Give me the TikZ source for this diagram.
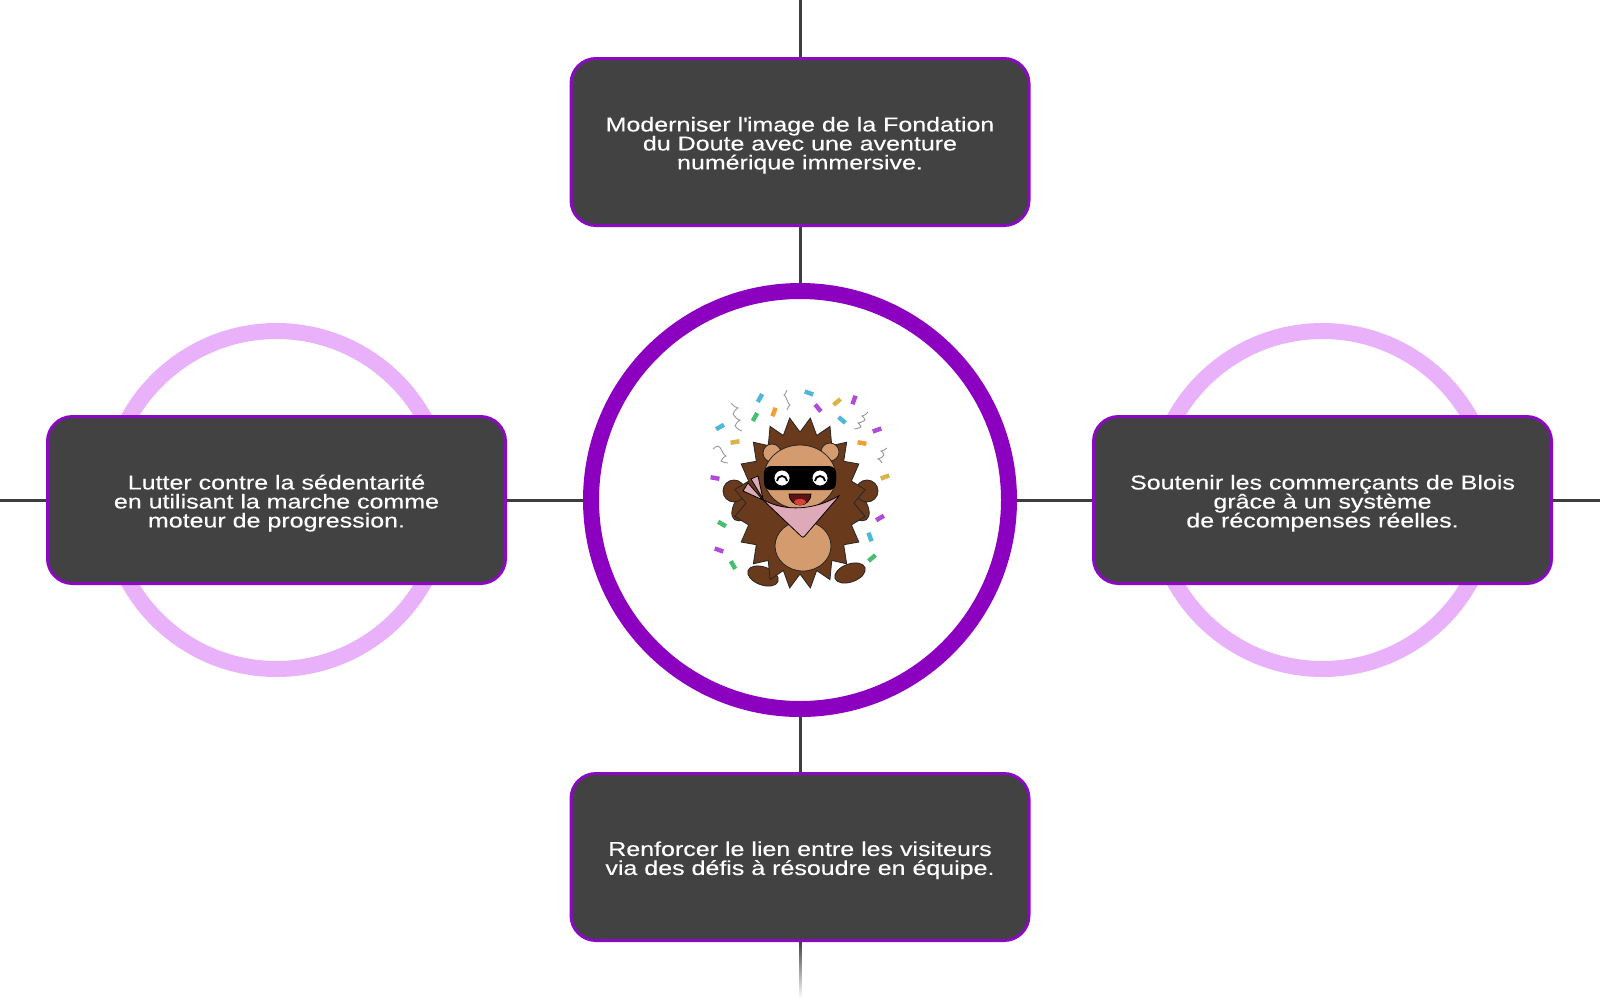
\documentclass[tikz,border=0pt]{standalone}
\usepackage{fontspec}
\setmainfont{Liberation Sans}[FakeStretch=1.25, FakeBold=0.3]
\usepackage{tikz}
\usetikzlibrary{positioning, fadings}
\definecolor{boxgray}{HTML}{424242}
\definecolor{linegray}{HTML}{3E3E3E}
\definecolor{goalpurple}{HTML}{8A0AC2}
\definecolor{hubpurple}{HTML}{8C00C0}
\definecolor{halopink}{HTML}{E9B1FA}
\definecolor{furbrown}{HTML}{6A3A1C}
\definecolor{skintan}{HTML}{D49B6E}
\definecolor{scarfpink}{HTML}{DEA9B9}
\definecolor{mouthred}{HTML}{5E1410}
\definecolor{tonguered}{HTML}{D8403A}
\definecolor{confcyan}{HTML}{4FB8D8}
\definecolor{confpurple}{HTML}{B04AD8}
\definecolor{confgold}{HTML}{D8B446}
\definecolor{conforange}{HTML}{F0A030}
\definecolor{confgreen}{HTML}{44C070}
\tikzstyle{goal} = [draw=goalpurple, line width=3pt, fill=boxgray, rounded corners=25pt,
  minimum width=458pt, minimum height=167pt, text=white, align=center,
  font={\fontsize{20}{19}\selectfont}]
\tikzstyle{hub} = [circle, draw=hubpurple, line width=16pt, fill=white, minimum size=418pt, inner sep=0pt]
\tikzstyle{halo} = [circle, draw=halopink, line width=16pt, minimum size=338pt, inner sep=0pt]
\tikzstyle{link} = [draw=linegray, line width=3pt]
\tikzstyle{fur} = [fill=furbrown, draw=black!85, line width=0.8pt]
\tikzstyle{skin} = [fill=skintan, draw=black!85, line width=0.8pt]
\tikzstyle{streamer} = [draw=gray!80, line width=0.9pt]

\begin{document}
\begin{tikzpicture}[x=1pt, y=-1pt]
  \useasboundingbox (0,0) rectangle (1600,999);
  \node[halo] (lefthalo) at (276.5,500) {};
  \node[halo] (righthalo) at (1322.5,500) {};
  \node[goal] (top) at (800,142) {\mbox{}\\[2pt]Moderniser l\textquotesingle image de la Fondation\\du Doute avec une aventure\\num\'erique immersive.};
  \node[goal] (bottom) at (800,857) {\mbox{}\\[2pt]Renforcer le lien entre les visiteurs\\via des d\'efis \`a r\'esoudre en \'equipe.};
  \node[goal] (left) at (276.5,500) {\mbox{}\\[2pt]Lutter contre la s\'edentarit\'e\\en utilisant la marche comme\\moteur de progression.};
  \node[goal] (right) at (1322.5,500) {\mbox{}\\[2pt]Soutenir les commer\c{c}ants de Blois\\gr\^ace \`a un syst\`eme\\de r\'ecompenses r\'eelles.};
  \node[hub] (hub) at (800,500) {};
  \coordinate (n) at (800,0);
  \coordinate (s) at (800,997);
  \coordinate (w) at (0,500);
  \coordinate (e) at (1600,500);
  \draw[link] (n) -- (top);
  \draw[link] (top) -- (hub);
  \draw[link] (hub) -- (bottom);
  \draw[link, path fading=south] (bottom) -- (s);
  \draw[link] (w) -- (left);
  \draw[link] (left) -- (hub);
  \draw[link] (hub) -- (right);
  \draw[link] (right) -- (e);
  % hedgehog
  \foreach \x/\y/\r/\c in {760/398/60/confcyan, 809/393/-20/confcyan, 837/402/40/confgold,
      854/400/70/confpurple, 818/408/-50/confpurple, 774/412/70/conforange, 755/417/60/confgreen,
      842/420/-40/confcyan, 720/427/30/confcyan, 735/442/10/confgold, 862/443/-10/conforange,
      877/430/20/confpurple, 885/477/20/confgold, 715/478/-10/confpurple, 880/518/30/confpurple,
      722/524/-30/confgreen, 870/537/-70/confcyan, 719/550/-20/confpurple, 872/558/40/confgreen,
      733/565/-60/confgreen}
    \fill[\c, shift={(\x,\y)}, rotate=\r] (-4.5,-2.2) rectangle (4.5,2.2);
  \draw[streamer] (787,390) sin (784,395) cos (787,400) sin (790,405) cos (787,410);
  \draw[streamer] (731,403) sin (738,408) cos (733,414) sin (740,420) cos (735,426) sin (742,431);
  \draw[streamer] (713,449) sin (718,446) cos (722,451) sin (726,456) cos (721,461) sin (728,463);
  \draw[streamer] (868,412) sin (862,416) cos (865,420) sin (858,423) cos (861,427) sin (854,429);
  \draw[streamer] (887,448) sin (881,451) cos (884,455) sin (878,459) cos (882,463);
  \draw[fur] (745,505) ellipse[x radius=18, y radius=10, rotate=55];
  \draw[fur] (856,505) ellipse[x radius=18, y radius=10, rotate=-55];
  \draw[fur] (734,491) circle[radius=11];
  \draw[fur] (867,491) circle[radius=11];
  \draw[fur] (763,576) ellipse[x radius=16, y radius=9, rotate=-20];
  \draw[fur] (850,573) ellipse[x radius=16, y radius=9, rotate=20];
  \begin{scope}[shift={(800,503)}]
    \draw[fur] (0:54 and 71) \foreach \a in {18,36,...,342} {-- (\a-9:66 and 86) -- (\a:54 and 71)} -- (351:66 and 86) -- cycle;
  \end{scope}
  \draw[skin] (803,546) ellipse[x radius=28, y radius=25];
  \draw[skin] (772,453) circle[radius=9];
  \draw[skin] (830,452) circle[radius=9];
  \draw[skin] (800,477) ellipse[x radius=36, y radius=32];
  \fill[black, rounded corners=7pt] (764,466) rectangle (836,490);
  \foreach \ex in {782,820} {
    \draw[fill=white, line width=0.8pt] (\ex,478) circle[radius=8];
    \draw[line width=1.8pt] (\ex-5,481) arc[start angle=180, end angle=360, radius=5];
  }
  \fill[black] (800,487) ellipse[x radius=4, y radius=3];
  \draw[fill=mouthred, line width=0.8pt] (789,494) -- (811,494) arc[start angle=0, end angle=180, radius=11] -- cycle;
  \fill[tonguered] (800,502) ellipse[x radius=6, y radius=3];
  \draw[fill=scarfpink, line width=0.8pt] (763,500) -- (743,491) -- (748,483) -- cycle;
  \draw[fill=scarfpink, line width=0.8pt] (763,499) -- (751,479) -- (758,476) -- cycle;
  \draw[fill=scarfpink, line width=0.8pt, rounded corners=2pt] (762,499) .. controls (785,512) and (815,510) .. (840,495) -- (803,538) -- cycle;
\end{tikzpicture}
\end{document}
